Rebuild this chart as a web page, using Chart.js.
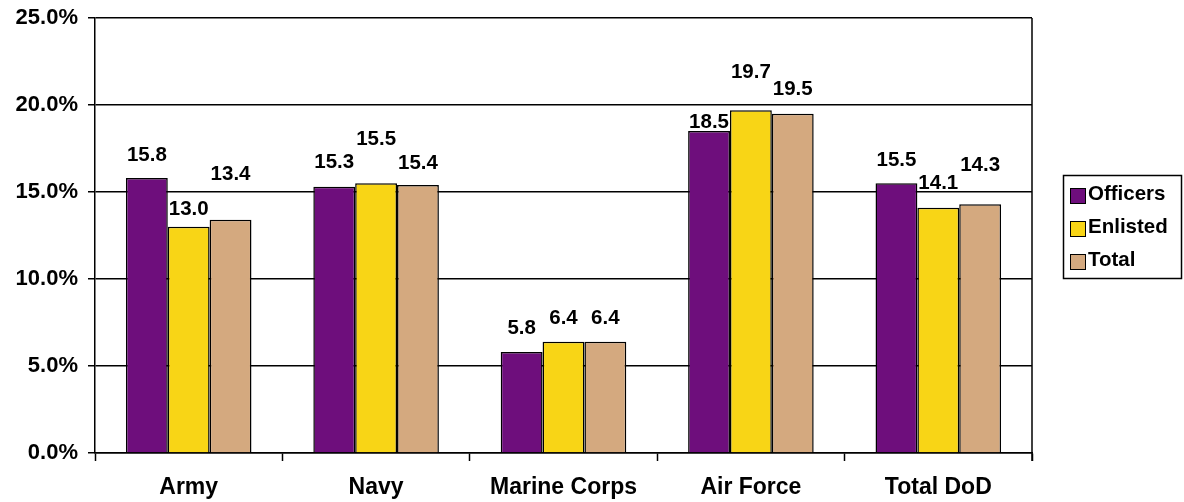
<!DOCTYPE html>
<html>
<head>
<meta charset="utf-8">
<script src="https://cdn.jsdelivr.net/npm/chart.js@4/dist/chart.umd.min.js"></script>
<style>
  html, body { margin: 0; padding: 0; background: #fff; }
  #wrap { width: 1184px; height: 502px; }
</style>
</head>
<body>
<div id="wrap"><canvas id="grafico"></canvas></div>
<script>
// === Datos ===
const categorias = ['Army', 'Navy', 'Marine Corps', 'Air Force', 'Total DoD'];
const officers = [15.8, 15.3, 5.8, 18.5, 15.5];
const enlisted = [13.0, 15.5, 6.4, 19.7, 14.1];
const total = [13.4, 15.4, 6.4, 19.5, 14.3];
const yTicks = [0, 5, 10, 15, 20, 25];

// altura de las etiquetas sobre cada barra (px)
const labelLift = [
    [23, 24, 24, 9, 23],
    [17, 44, 23, 38, 24],
    [45, 22, 23, 24, 39]
];

const FONT = "'Liberation Sans', Arial, sans-serif";

// etiquetas de datos
const etiquetas = {
    id: 'etiquetas',
    afterDatasetsDraw(chart) {
        const ctx = chart.ctx;
        ctx.save();
        ctx.font = 'bold 20.5px ' + FONT;
        ctx.fillStyle = '#000';
        ctx.textAlign = 'center';
        ctx.textBaseline = 'middle';
        chart.data.datasets.forEach((ds, d) => {
            chart.getDatasetMeta(d).data.forEach((bar, i) => {
                ctx.fillText(ds.data[i].toFixed(1), bar.x, bar.y - labelLift[d][i]);
            });
        });
        ctx.restore();
    }
};

// borde del area y leyenda
const marco = {
    id: 'marco',
    afterDraw(chart) {
        const ctx = chart.ctx;
        const a = chart.chartArea;
        ctx.save();
        ctx.strokeStyle = '#000';
        ctx.lineWidth = 1.5;
        ctx.beginPath();
        ctx.moveTo(a.right, a.top);
        ctx.lineTo(a.right, a.bottom + 8);
        ctx.stroke();

        // leyenda
        ctx.lineWidth = 1.5;
        ctx.strokeRect(1063.5, 175.5, 118, 103);
        ctx.font = 'bold 20.5px ' + FONT;
        ctx.textBaseline = 'middle';
        ctx.textAlign = 'left';
        chart.data.datasets.forEach((ds, d) => {
            const y = 196 + d * 33;
            ctx.fillStyle = ds.backgroundColor;
            ctx.fillRect(1070, y - 8, 16, 16);
            ctx.lineWidth = 1;
            ctx.strokeRect(1070.5, y - 7.5, 15, 15);
            ctx.fillStyle = '#000';
            ctx.fillText(ds.label, 1088, y - 2);
        });
        ctx.restore();
    }
};

const ctx = document.getElementById('grafico').getContext('2d');
const grafico = new Chart(ctx, {
    type: 'bar',
    data: {
        labels: categorias,
        datasets: [
            { label: 'Officers', data: officers, backgroundColor: '#6E0E7C' },
            { label: 'Enlisted', data: enlisted, backgroundColor: '#F8D516' },
            { label: 'Total', data: total, backgroundColor: '#D4A97F' }
        ]
    },
    options: {
        responsive: true,
        maintainAspectRatio: false,
        animation: false,
        devicePixelRatio: 1,
        layout: { padding: { top: 18, left: 10, right: 152, bottom: 0 } },
        datasets: {
            bar: {
                borderColor: '#000',
                borderWidth: 1.5,
                categoryPercentage: 0.67,
                barPercentage: 1.0
            }
        },
        plugins: {
            legend: { display: false },
            tooltip: { enabled: false }
        },
        scales: {
            x: {
                offset: true,
                grid: {
                    offset: true,
                    drawOnChartArea: false,
                    drawTicks: true,
                    tickLength: 8,
                    tickColor: '#000',
                    tickWidth: 1.5
                },
                border: { color: '#000', width: 1.5 },
                ticks: {
                    color: '#000',
                    font: { family: FONT, size: 23, weight: 'bold' },
                    padding: 13,
                    maxRotation: 0
                },
                afterFit(axis) {
                    axis.height = 49;
                    axis.paddingLeft = 0;
                    axis.paddingRight = 0;
                }
            },
            y: {
                min: 0,
                max: 25,
                afterBuildTicks(axis) { axis.ticks = yTicks.map(v => ({ value: v })); },
                grid: {
                    color: '#000',
                    lineWidth: 1.5,
                    tickLength: 7,
                    tickColor: '#000'
                },
                border: { color: '#000', width: 1.5 },
                ticks: {
                    color: '#000',
                    font: { family: FONT, size: 22, weight: 'bold' },
                    padding: 10,
                    callback: v => v.toFixed(1) + '%'
                },
                afterFit(axis) {
                    axis.width = 85;
                    axis.paddingTop = 0;
                    axis.paddingBottom = 0;
                }
            }
        }
    },
    plugins: [etiquetas, marco]
});
</script>
</body>
</html>
